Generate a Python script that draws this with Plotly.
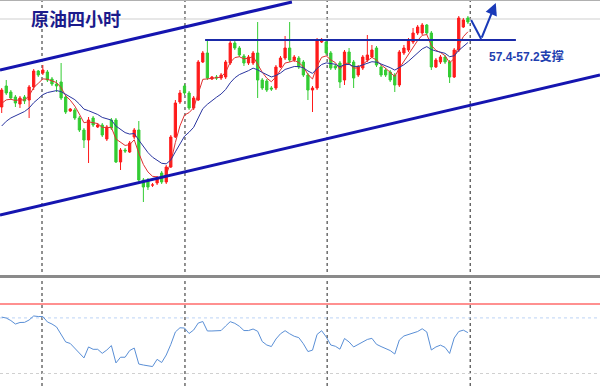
import plotly.graph_objects as go

# ---- data (4h crude oil bars) ----
opens = [53.95,55.00,54.70,54.45,54.10,54.45,54.30,54.95,55.75,55.65,55.70,55.35,55.10,55.20,54.45,53.75,53.80,53.40,52.80,52.30,
         53.40,52.95,53.05,52.35,53.30,53.30,51.20,51.80,51.70,52.45,52.80,50.30,50.30,50.05,50.15,50.65,50.20,50.95,52.45,54.20,
         55.00,54.65,53.90,54.30,56.20,56.65,55.35,55.45,55.40,55.45,56.15,57.15,56.90,56.50,56.15,56.15,56.65,55.30,55.25,54.90,
         54.90,55.95,56.40,56.90,56.30,56.40,56.20,55.55,54.80,54.90,57.20,57.20,56.65,56.00,56.15,55.30,56.70,56.20,55.55,55.90,
         56.30,56.45,56.90,55.95,55.80,55.70,55.55,55.05,56.65,56.80,57.20,57.65,57.65,58.05,57.65,55.95,56.20,56.45,56.20,55.45,
         56.80,57.95,58.40]
highs = [54.90,55.30,54.80,54.55,54.50,54.55,55.05,55.85,55.80,56.05,55.80,55.45,55.30,56.15,54.55,53.90,53.90,53.50,52.90,53.45,
         53.50,53.15,53.15,53.05,53.40,53.40,51.90,51.90,52.25,52.90,53.25,50.40,50.40,50.15,50.50,50.75,51.05,52.55,54.30,54.80,
         55.10,54.75,54.50,56.30,56.75,57.30,55.50,55.55,55.65,56.30,57.25,57.25,57.00,56.60,56.55,56.75,58.20,55.40,55.35,55.00,
         56.05,56.50,57.50,58.20,56.55,56.50,56.30,55.65,55.00,57.40,57.40,57.30,56.75,56.10,56.25,56.80,56.90,56.30,56.05,56.55,
         57.55,57.05,57.00,56.05,55.90,55.80,55.65,56.80,57.05,57.40,57.90,58.05,58.15,58.10,57.75,56.40,56.55,56.55,56.30,56.90,
         58.50,58.40,58.50]
lows = [53.65,54.55,54.30,53.95,53.90,54.10,53.40,54.80,55.45,55.55,55.20,55.00,54.70,54.30,53.60,53.70,53.30,52.70,51.90,51.15,
        52.95,52.90,52.45,52.25,52.80,51.15,50.80,51.65,51.65,52.35,50.20,49.20,49.80,49.95,50.05,50.10,50.10,50.90,52.40,54.10,
        54.55,53.80,53.80,54.25,56.15,55.30,55.30,55.30,55.30,55.35,56.05,56.80,56.45,56.00,56.05,56.05,54.40,54.80,54.70,54.75,
        54.80,55.90,56.30,56.20,56.20,55.85,55.45,54.30,53.70,54.80,57.15,56.55,55.80,55.80,54.90,55.05,56.05,54.90,55.45,55.80,
        56.20,56.40,55.95,55.45,55.45,55.20,54.70,54.95,56.55,56.70,57.10,57.55,57.55,57.55,55.80,55.90,56.10,56.10,55.15,55.40,
        56.70,57.90,58.10]
closes = [54.80,54.65,54.40,54.15,54.40,54.25,54.95,55.75,55.55,55.80,55.30,55.10,55.00,54.40,53.70,53.85,53.40,52.80,52.30,53.30,
          53.05,53.05,52.55,52.95,52.90,51.20,51.80,51.75,52.15,52.80,50.30,49.95,49.95,50.05,50.40,50.20,50.95,52.45,54.15,54.65,
          54.65,53.90,54.40,56.20,56.65,55.40,55.45,55.40,55.55,56.20,57.15,56.90,56.55,56.15,56.45,56.65,55.30,54.90,54.80,54.85,
          55.95,56.40,56.90,56.30,56.45,55.95,55.55,54.80,54.90,57.30,57.30,56.65,55.90,55.90,55.20,56.70,56.15,55.40,55.95,56.45,
          56.55,56.80,56.05,55.55,55.55,55.30,55.05,56.70,56.90,57.30,57.65,57.95,58.05,57.65,55.95,56.30,56.45,56.20,55.45,56.80,
          58.40,58.30,58.20]
rsi = [70.6,69.9,68.1,65.6,66.7,66.8,68.5,71.4,71.0,71.0,67.1,65.6,63.5,57.7,52.7,51.6,48.3,44.7,41.2,49.1,
       47.4,47.4,44.5,46.9,50.1,37.6,41.7,41.7,46.5,48.3,36.8,36.1,35.4,35.0,40.2,37.9,43.3,50.9,59.9,62.9,
       62.7,58.8,61.3,66.3,67.4,60.6,60.6,60.6,60.9,64.2,67.3,66.1,64.0,60.9,60.9,62.0,60.4,53.0,50.5,49.4,
       54.8,58.6,60.8,58.6,56.8,55.8,51.4,45.8,46.8,58.1,60.8,56.3,50.5,49.6,47.5,55.2,52.7,49.1,50.9,53.0,
       54.5,55.3,51.0,49.4,48.1,46.5,44.0,54.1,57.0,58.1,58.9,60.2,62.2,59.9,46.9,49.1,50.4,48.8,44.4,55.5,
       60.2,61.2,59.4]

# moving averages (EMA) seeded with the values visible at the left edge
fast_period, fast_seed = 5, 53.8
slow_period, slow_seed = 13, 52.7

support_price = 57.3
support_text = "57.4-57.2支撑"
title_text = "原油四小时"
rsi_levels = {"upper": 80, "mid": 70, "lower": 30}

def ema(values, period, seed):
    a = 2.0 / (period + 1)
    out, prev = [], seed
    for v in values:
        prev = prev + a * (v - prev)
        out.append(prev)
    return out

n = len(closes)
idx = list(range(n))
ma_fast = ema(closes, fast_period, fast_seed)
ma_slow = ema(closes, slow_period, slow_seed)

fig = go.Figure()
fig.add_trace(go.Candlestick(
    x=idx, open=opens, high=highs, low=lows, close=closes,
    increasing=dict(line=dict(color="#ff1a1a", width=1), fillcolor="#ff1a1a"),
    decreasing=dict(line=dict(color="#33cc33", width=1), fillcolor="#33cc33"),
    whiskerwidth=0, showlegend=False, hoverinfo="skip", xaxis="x", yaxis="y"))
fig.add_trace(go.Scatter(x=idx, y=ma_fast, mode="lines", line=dict(color="#e03030", width=1),
                         showlegend=False, hoverinfo="skip", xaxis="x", yaxis="y"))
fig.add_trace(go.Scatter(x=idx, y=ma_slow, mode="lines", line=dict(color="#2a35a0", width=1),
                         showlegend=False, hoverinfo="skip", xaxis="x", yaxis="y"))
fig.add_trace(go.Scatter(x=idx, y=rsi, mode="lines", line=dict(color="#5a8fd6", width=1),
                         showlegend=False, hoverinfo="skip", xaxis="x2", yaxis="y2"))

xr = [-0.37, 130.9]
H = 386.0
main_dom = [1 - 275 / H, 1]
sub_dom = [0, 1 - 279 / H]

shapes = []
# time separators
for xs in [8.82, 40.1, 71.2, 102.5]:
    shapes.append(dict(type="line", xref="x", yref="paper", x0=xs, x1=xs, y0=0, y1=1,
                       line=dict(color="#222222", width=1, dash="dot"), layer="below"))
# faint price grid line near top
shapes.append(dict(type="line", xref="paper", yref="y", x0=0, x1=1, y0=58.35, y1=58.35,
                   line=dict(color="#cfcfcf", width=1), layer="below"))
# top border
shapes.append(dict(type="line", xref="paper", yref="paper", x0=0, x1=1, y0=1 - 0.5 / H, y1=1 - 0.5 / H,
                   line=dict(color="#b0b0b0", width=1)))
# panel separator
shapes.append(dict(type="line", xref="paper", yref="paper", x0=0, x1=1, y0=1 - 276.5 / H, y1=1 - 276.5 / H,
                   line=dict(color="#8a8a8a", width=3)))
# RSI levels
shapes.append(dict(type="line", xref="paper", yref="y2", x0=0, x1=1, y0=rsi_levels["upper"], y1=rsi_levels["upper"],
                   line=dict(color="#ff9090", width=2), layer="below"))
shapes.append(dict(type="line", xref="paper", yref="y2", x0=0, x1=1, y0=rsi_levels["mid"], y1=rsi_levels["mid"],
                   line=dict(color="#bcd4f5", width=1, dash="dot"), layer="below"))
shapes.append(dict(type="line", xref="paper", yref="y2", x0=0, x1=1, y0=rsi_levels["lower"], y1=rsi_levels["lower"],
                   line=dict(color="#d0d0d0", width=1, dash="dot"), layer="below"))
# channel lines
shapes.append(dict(type="line", xref="x", yref="y", x0=-0.37, y0=55.8, x1=63.5, y1=59.2,
                   line=dict(color="#1515b0", width=3)))
shapes.append(dict(type="line", xref="x", yref="y", x0=-0.37, y0=48.55, x1=130.9, y1=55.55,
                   line=dict(color="#1515b0", width=3)))
# support line
shapes.append(dict(type="line", xref="x", yref="y", x0=44.5, y0=support_price, x1=112.5, y1=support_price,
                   line=dict(color="#1a2aa8", width=2)))
# arrow first leg
shapes.append(dict(type="line", xref="x", yref="y", x0=102.7, y0=58.3, x1=104.9, y1=57.35,
                   line=dict(color="#1a3ab8", width=2)))

annotations = [
    dict(xref="x", yref="y", axref="x", ayref="y", x=108.1, y=59.15, ax=104.9, ay=57.35,
         showarrow=True, arrowhead=2, arrowsize=1.2, arrowwidth=2, arrowcolor="#1a3ab8", text=""),
    dict(xref="paper", yref="paper", x=29 / 600, y=1 - 18 / H, xanchor="left", yanchor="middle",
         text="<b>" + title_text + "</b>", showarrow=False,
         font=dict(family="Noto Sans CJK SC", size=18, color="#1b1b8c")),
    dict(xref="paper", yref="paper", x=487 / 600, y=1 - 57 / H, xanchor="left", yanchor="middle",
         text="<b>" + support_text + "</b>", showarrow=False,
         font=dict(family="Liberation Sans, Noto Sans CJK SC", size=12, color="#1f3fb0")),
]

fig.update_layout(
    width=600, height=386, margin=dict(l=0, r=0, t=0, b=0),
    paper_bgcolor="white", plot_bgcolor="white",
    xaxis=dict(domain=[0, 1], range=xr, visible=False, rangeslider=dict(visible=False), anchor="y"),
    yaxis=dict(domain=main_dom, range=[45.55, 59.3], visible=False, anchor="x"),
    xaxis2=dict(domain=[0, 1], range=xr, visible=False, anchor="y2"),
    yaxis2=dict(domain=sub_dom, range=[21, 98], visible=False, anchor="x2"),
    shapes=shapes, annotations=annotations, showlegend=False,
)

fig.write_html("out.html", config={"displayModeBar": False},
               post_script="document.body.style.margin='0';document.body.style.padding='0';")
